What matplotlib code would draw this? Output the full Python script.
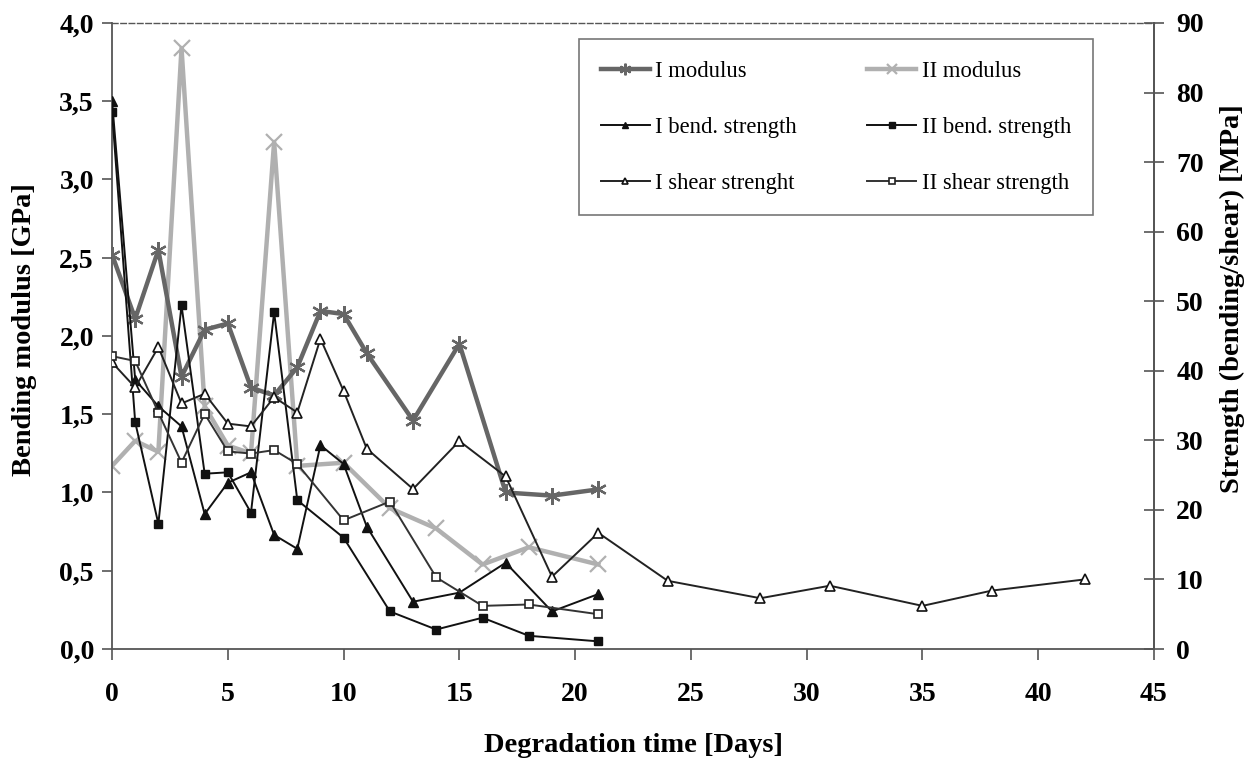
import matplotlib
matplotlib.use('Agg')
import matplotlib.pyplot as plt
from matplotlib.ticker import FuncFormatter, MultipleLocator

plt.rcParams['font.family'] = ['Liberation Serif', 'DejaVu Serif']

# ---- data ----
days_I = [0, 1, 2, 3, 4, 5, 6, 7, 8, 9, 10, 11, 13, 15, 17, 19, 21]
days_II = [0, 1, 2, 3, 4, 5, 6, 7, 8, 10, 12, 14, 16, 18, 21]
days_I_shear = [0, 1, 2, 3, 4, 5, 6, 7, 8, 9, 10, 11, 13, 15, 17, 19, 21,
                24, 28, 31, 35, 38, 42]

# bending modulus [GPa]
mod_I = [2.52, 2.11, 2.55, 1.74, 2.04, 2.08, 1.67, 1.62, 1.80, 2.16, 2.14,
         1.89, 1.46, 1.95, 1.00, 0.98, 1.02]
mod_II = [1.17, 1.33, 1.26, 3.84, 1.55, 1.30, 1.25, 3.24, 1.17, 1.19, 0.90,
          0.77, 0.54, 0.65, 0.54]
# strengths [MPa]
bend_I = [78.8, 38.7, 34.9, 32.0, 19.4, 23.9, 25.4, 16.4, 14.4, 29.3, 26.6,
          17.6, 6.8, 8.1, 12.4, 5.4, 7.9]
bend_II = [77.2, 32.6, 18.0, 49.4, 25.2, 25.4, 19.6, 48.4, 21.4, 16.0, 5.4,
           2.8, 4.5, 1.9, 1.1]
shear_I = [41.2, 37.6, 43.4, 35.3, 36.7, 32.4, 32.0, 36.2, 34.0, 44.6, 37.1,
           28.8, 23.0, 29.9, 24.8, 10.4, 16.7, 9.8, 7.3, 9.1, 6.2, 8.4, 10.0]
shear_II = [42.1, 41.4, 34.0, 26.8, 33.8, 28.4, 28.1, 28.6, 26.6, 18.5, 21.2,
            10.3, 6.2, 6.4, 5.0]

labels = ['I modulus', 'II modulus', 'I bend. strength', 'II bend. strength',
          'I shear strenght', 'II shear strength']

fig = plt.figure(figsize=(12.59, 7.63), dpi=100)
ax = fig.add_axes([0.089, 0.1494, 0.8276, 0.8205])
ax2 = ax.twinx()

l_mI, = ax.plot(days_I, mod_I, color='#666666', lw=3.2, marker=(6, 2, 0),
                ms=12, mew=1.6, label=labels[0], zorder=3)
l_mII, = ax.plot(days_II, mod_II, color='#b0b0b0', lw=3.2, marker='x',
                 ms=11, mew=1.6, label=labels[1], zorder=2)

l_bI, = ax2.plot(days_I, bend_I, color='#111111', lw=1.4, marker='^', ms=6.5,
                 mfc='#111111', mec='#111111', label=labels[2])
l_bII, = ax2.plot(days_II, bend_II, color='#111111', lw=1.4, marker='s', ms=6,
                  mfc='#111111', mec='#111111', label=labels[3])
l_sI, = ax2.plot(days_I_shear, shear_I, color='#222222', lw=1.4, marker='^',
                 ms=6.5, mfc='white', mec='#111111', mew=1.2, label=labels[4])
l_sII, = ax2.plot(days_II, shear_II, color='#333333', lw=1.4, marker='s',
                  ms=6, mfc='white', mec='#222222', mew=1.2, label=labels[5])

ax.set_xlim(0, 45)
ax.set_ylim(0, 4.0)
ax2.set_ylim(0, 90)
ax.xaxis.set_major_locator(MultipleLocator(5))
ax.yaxis.set_major_locator(MultipleLocator(0.5))
ax2.yaxis.set_major_locator(MultipleLocator(10))
ax.yaxis.set_major_formatter(FuncFormatter(lambda v, p: f'{v:.1f}'.replace('.', ',')))

spine_c = '#555555'
for s in ['left', 'bottom', 'right']:
    ax.spines[s].set_color(spine_c)
    ax.spines[s].set_linewidth(1.3)
ax.spines['top'].set_color('#555555')
ax.spines['top'].set_linewidth(1.0)
ax.spines['top'].set_linestyle((0, (4, 2)))
for s in ['left', 'bottom', 'top']:
    ax2.spines[s].set_visible(False)
ax2.spines['right'].set_color(spine_c)
ax2.spines['right'].set_linewidth(1.3)

ax.tick_params(axis='y', direction='out', length=7, width=1.2, color=spine_c,
               labelsize=20, pad=6)
ax.tick_params(axis='x', direction='out', length=8, width=1.2, color=spine_c,
               labelsize=20, pad=16)
ax2.tick_params(axis='y', direction='inout', length=14, width=1.2,
                color=spine_c, labelsize=20, pad=9)
for lab in ax.get_xticklabels() + ax.get_yticklabels() + ax2.get_yticklabels():
    lab.set_fontweight('bold')

ax.set_xlabel('Degradation time [Days]', fontsize=20.5, fontweight='bold')
ax.xaxis.set_label_coords(0.5, -0.134)
ax.set_ylabel('Bending modulus [GPa]', fontsize=20.5, fontweight='bold')
ax.yaxis.set_label_coords(-0.072, 0.51)
ax2.set_ylabel('Strength (bending/shear) [MPa]', fontsize=20.5, fontweight='bold')
ax2.yaxis.set_label_coords(1.063, 0.56)

handles = [l_mI, l_bI, l_sI, l_mII, l_bII, l_sII]
leg = ax2.legend(handles, [h.get_label() for h in handles], ncol=2,
                 loc='upper left', bbox_to_anchor=(579 / 1259, 1 - 39 / 763),
                 bbox_transform=fig.transFigure, borderaxespad=0,
                 fontsize=16.3, frameon=True, fancybox=False, framealpha=1,
                 edgecolor='#777777', labelspacing=1.55, borderpad=0.95,
                 handlelength=2.17, handletextpad=0.25, columnspacing=3.1,
                 markerscale=0.7)
leg.get_frame().set_linewidth(1.2)

fig.savefig('out.png', dpi=100)
